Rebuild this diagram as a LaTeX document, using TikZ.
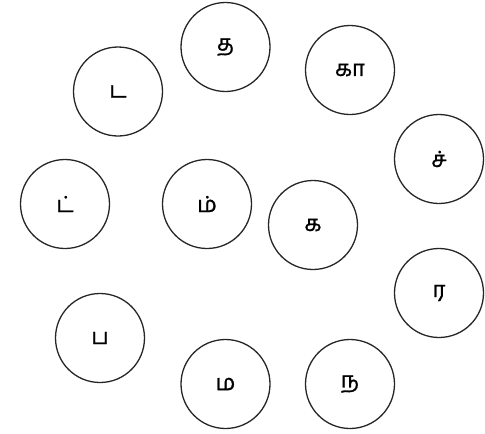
\documentclass[tikz,border=0pt]{standalone}
\usepackage{fontspec}
\newfontfamily\tamilfont[Script=Tamil,FakeBold=1.2]{Hind Madurai}
\newcommand{\tl}[1]{\raisebox{-4pt}{#1}}
\begin{document}
\begin{tikzpicture}[x=1pt,y=-1pt,
  letter/.style={circle,draw=black!85,line width=1.3pt,minimum size=89pt,inner sep=0pt,font=\tamilfont\fontsize{22}{26}\selectfont}]
\useasboundingbox (0,0) rectangle (485,434);
\node[letter] (tha) at (225.5,47) {\tl{த}};
\node[letter] (kaa) at (350,70) {\tl{கா}};
\node[letter] (ta) at (118,91.5) {\tl{ட}};
\node[letter] (cc) at (439,159) {\tl{ச்}};
\node[letter] (tt) at (65,204) {\tl{ட்}};
\node[letter] (mm) at (207,204) {\tl{ம்}};
\node[letter] (ka) at (313,225) {\tl{க}};
\node[letter] (ra) at (439,293) {\tl{ர}};
\node[letter] (pa) at (100,338) {\tl{ப}};
\node[letter] (ma) at (225.5,384) {\tl{ம}};
\node[letter] (na) at (350,384) {\tl{ந}};
\end{tikzpicture}
\end{document}
